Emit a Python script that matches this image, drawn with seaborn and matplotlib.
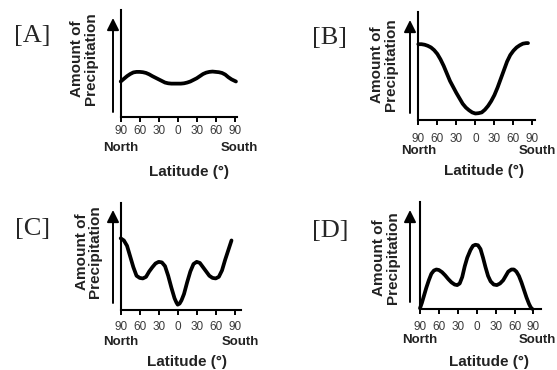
import matplotlib
matplotlib.use("Agg")
import matplotlib.pyplot as plt
import seaborn as sns

# latitude (negative = North) and amount of precipitation
lat_a = [-90, -85, -80, -75, -70, -65, -60, -55, -50, -45, -40, -35, -30, -25, -20, -15, -10, -5, 0,
         5, 10, 15, 20, 25, 30, 35, 40, 45, 50, 55, 60, 65, 70, 75, 80, 85, 92]
prec_a = [33, 35.5, 38, 40, 41.5, 42, 42, 41.7, 41, 39.7, 38, 36.5, 35, 33.5, 32, 31.3, 31, 31, 31,
          31, 31.3, 32, 33, 34.5, 36, 38, 40, 41.3, 42, 42.3, 42, 41.7, 41, 39.5, 37, 35, 33]

lat_b = [-90, -85, -80, -75, -70, -65, -60, -55, -50, -45, -40, -35, -30, -25, -20, -15, -10, -5, 0,
         5, 10, 15, 20, 25, 30, 35, 40, 45, 50, 55, 60, 65, 70, 75, 80, 83]
prec_b = [70, 70, 69.5, 68.5, 67, 64.5, 61, 56, 50, 43, 36, 30.5, 25, 20, 15, 11.5, 9, 7, 6,
          6.3, 7, 9.5, 13, 17.5, 23, 30, 38, 46, 54, 60, 64, 67, 69, 70.5, 71, 71]

lat_c = [-90, -85, -80, -75, -70, -65, -60, -55, -50, -45, -40, -35, -30, -25, -20, -15, -10, -5, -2,
         0, 3, 6, 10, 15, 20, 25, 30, 35, 40, 45, 50, 55, 60, 65, 70, 75, 80, 85]
prec_c = [67, 65, 60, 50, 40, 32, 30, 29.5, 31, 36, 40, 43.5, 45, 44.5, 41, 32, 21, 11, 7,
          5, 6, 9, 15, 26, 36, 43, 45, 44, 40, 36, 32, 30, 29.5, 31, 37, 47, 56, 65]

lat_d = [-90, -87, -84, -80, -76, -72, -68, -64, -60, -55, -50, -45, -40, -35, -31, -27, -23, -19,
         -15, -10, -6, -2, 2, 6, 10, 14, 18, 22, 27, 32, 37, 42, 46, 50, 55, 59, 63, 67, 71, 75,
         79, 83, 86, 88]
prec_d = [1, 6, 12, 20, 27, 33, 36, 37, 36.5, 34.5, 31.5, 28, 25, 23, 22.5, 24, 30, 40,
          48, 55, 59, 60, 59.5, 56, 48, 39, 31, 26, 23, 22.5, 24, 27, 31, 35, 37, 37, 35, 31, 25, 18,
          11, 5, 1.5, 0.5]

panel_names = ["[A]", "[B]", "[C]", "[D]"]
tick_pos = [-90, -60, -30, 0, 30, 60, 90]
tick_labels = ["90", "60", "30", "0", "30", "60", "90"]
y_title = "Amount of\nPrecipitation"
x_title = "Latitude (°)"

sns.set_style("ticks")
plt.rcParams["font.family"] = ["Liberation Sans", "DejaVu Sans"]

W, H = 557, 370
fig = plt.figure(figsize=(W / 100, H / 100), dpi=100)


def fx(x):
    return x / W


def fy(y):
    return 1 - y / H


# pixel layout of each panel: axes box, xlim end, tick pad, label spots
panels = [
    dict(lat=lat_a, prec=prec_a, box=(120.7, 10, 236.9, 116.7), xmax=93.5, pad=2.2,
         name=(32.5, 36.5), ylab=(84, 59), arrow=(113, 112, 18),
         ns=148, south=239, lat_lbl=(189, 172)),
    dict(lat=lat_b, prec=prec_b, box=(418.3, 11.7, 535, 120), xmax=94, pad=5.5,
         name=(330, 37.5), ylab=(384, 65), arrow=(410, 113, 20),
         ns=151, south=537, lat_lbl=(484, 171)),
    dict(lat=lat_c, prec=prec_c, box=(120.7, 203, 241, 310), xmax=100, pad=4.5,
         name=(32.5, 229), ylab=(88.5, 252), arrow=(113, 303, 210),
         ns=342, south=240, lat_lbl=(187, 362)),
    dict(lat=lat_d, prec=prec_d, box=(420, 201.7, 541, 309.3), xmax=102, pad=5,
         name=(330, 231), ylab=(386, 258), arrow=(410, 302, 210),
         ns=340, south=537, lat_lbl=(489, 362)),
]

for p, name in zip(panels, panel_names):
    x0, y0, x1, y1 = p["box"]
    ax = fig.add_axes([fx(x0), fy(y1), (x1 - x0) / W, (y1 - y0) / H])
    sns.lineplot(x=p["lat"], y=p["prec"], ax=ax, color="black", lw=2.7, clip_on=False)
    ax.set_xlim(-90, p["xmax"])
    ax.set_ylim(0, 100)
    sns.despine(ax=ax)
    for s in ["left", "bottom"]:
        ax.spines[s].set_linewidth(1.5)
        ax.spines[s].set_color("black")
    ax.set_yticks([])
    ax.set_xticks(tick_pos)
    ax.set_xticklabels(tick_labels)
    ax.tick_params(axis="x", length=3.5, width=1.4, color="black", pad=p["pad"],
                   labelsize=8.5, labelcolor="#3a3a3a")
    ax.set_facecolor("none")

    # arrow beside the y axis
    ax_x, ax_bot, ax_top = p["arrow"]
    fig.add_artist(matplotlib.patches.FancyArrowPatch(
        (fx(ax_x), fy(ax_bot)), (fx(ax_x), fy(ax_top)), transform=fig.transFigure,
        arrowstyle="-|>,head_length=3.6,head_width=1.8", lw=1.4, color="black",
        shrinkA=0, shrinkB=0, mutation_scale=2))

    fig.text(fx(p["name"][0]), fy(p["name"][1]), name, family="Liberation Serif",
             fontsize=19, ha="center", va="center")
    fig.text(fx(p["ylab"][0]), fy(p["ylab"][1]), y_title, rotation=90,
             fontsize=11, fontweight="bold", color="#222222", ha="center", va="center",
             linespacing=0.95)
    fig.text(fx(x0), fy(p["ns"]), "North", fontsize=9.5, fontweight="bold",
             color="#222222", ha="center", va="center")
    fig.text(fx(p["south"]), fy(p["ns"]), "South", fontsize=9.5, fontweight="bold",
             color="#222222", ha="center", va="center")
    fig.text(fx(p["lat_lbl"][0]), fy(p["lat_lbl"][1]), x_title, fontsize=11,
             fontweight="bold", color="#222222", ha="center", va="center")

fig.savefig("out.png", dpi=100, facecolor="white")
